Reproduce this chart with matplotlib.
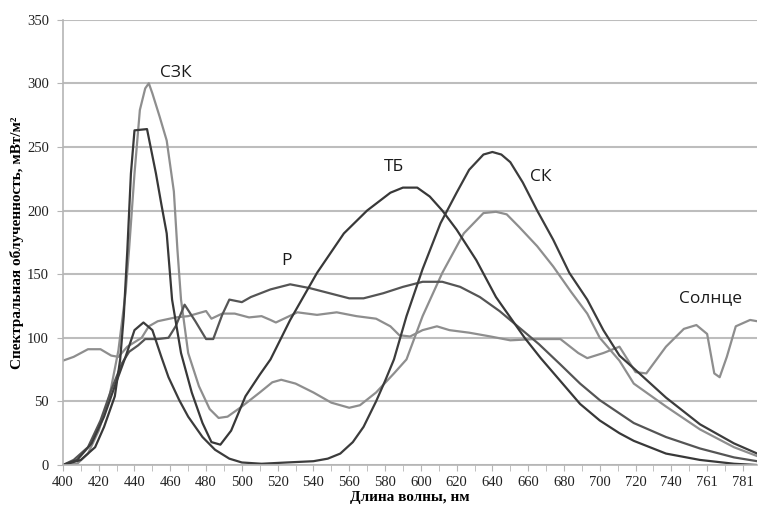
import matplotlib
matplotlib.use("Agg")
import matplotlib.pyplot as plt
from matplotlib.ticker import MultipleLocator

# --------------------------------------Data--------------------------------------
# x is the position on the category axis (label k sits at 400 + 20*k)
tick_pos = [400 + 20 * k for k in range(20)]
tick_labels = [str(v) for v in range(400, 741, 20)] + ["761", "781"]

szk_x = [400, 408, 414, 420, 426, 431, 435, 437, 440, 443, 446, 448, 450, 454, 458, 462, 464, 466,
         470, 476, 482, 487, 492, 500, 510, 517, 522, 530, 540, 550, 560, 566, 575, 585, 592, 601,
         612, 624, 635, 642, 648, 655, 665, 674, 684, 693, 700, 711, 719, 737, 756, 775, 788]
szk_y = [0, 1, 9, 27, 54, 90, 135, 170, 229, 279, 296, 300, 292, 274, 255, 215, 169, 130,
         88, 62, 44, 37, 38, 46, 57, 65, 67, 64, 57, 49, 45, 47, 57, 72, 83, 117,
         151, 182, 198, 199, 197, 187, 172, 156, 136, 119, 100, 82, 64, 46, 28, 14, 7]

tb_x = [400, 410, 418, 423, 429, 432, 434, 436, 438, 440, 447, 452, 455, 458, 461, 466, 472, 478,
        483, 488, 494, 502, 510, 516, 527, 542, 557, 570, 583, 590, 598, 605, 612, 620, 631, 642,
        650, 658, 667, 678, 689, 700, 711, 719, 737, 756, 775, 788]
tb_y = [0, 4, 14, 30, 54, 83, 117, 169, 229, 263, 264, 229, 205, 182, 130, 88, 57, 33,
        18, 16, 27, 54, 71, 83, 114, 151, 182, 200, 214, 218, 218, 211, 200, 185, 161, 132,
        116, 100, 84, 66, 48, 35, 25, 19, 9, 4, 1, 0]

sk_x = [400, 408, 416, 423, 429, 435, 440, 445, 450, 455, 459, 465, 470, 478, 485, 493, 500, 511,
        525, 540, 548, 555, 562, 568, 575, 580, 585, 592, 601, 611, 620, 627, 635, 640, 645, 650,
        657, 665, 674, 683, 693, 702, 711, 719, 737, 756, 775, 788]
sk_y = [0, 4, 17, 38, 62, 85, 106, 112, 106, 85, 69, 51, 38, 22, 12, 5, 2, 1,
        2, 3, 5, 9, 18, 30, 50, 66, 83, 117, 154, 190, 214, 232, 244, 246, 244, 238,
        222, 200, 177, 151, 130, 106, 86, 76, 53, 32, 17, 9]

r_x = [400, 406, 414, 421, 427, 433, 437, 442, 446, 453, 459, 463, 468, 474, 480, 484, 489, 493,
       500, 505, 516, 527, 538, 549, 560, 568, 579, 590, 601, 612, 622, 633, 644, 655, 666, 678,
       689, 700, 719, 737, 756, 775, 788]
r_y = [0, 4, 14, 35, 59, 80, 89, 94, 99, 99, 100, 109, 126, 113, 99, 99, 118, 130,
       128, 132, 138, 142, 139, 135, 131, 131, 135, 140, 144, 144, 140, 132, 121, 108, 95, 79,
       64, 51, 33, 22, 13, 6, 3]

sun_x = [400, 406, 414, 421, 427, 431, 436, 444, 448, 453, 463, 470, 480, 483, 489, 496, 504, 511,
         516, 519, 531, 542, 553, 564, 575, 583, 588, 594, 601, 609, 616, 627, 639, 650, 664, 678,
         688, 693, 702, 711, 720, 726, 737, 747, 754, 760, 764, 767, 771, 776, 784, 788]
sun_y = [82, 85, 91, 91, 86, 85, 93, 100, 109, 113, 116, 117, 121, 115, 119, 119, 116, 117,
         114, 112, 120, 118, 120, 117, 115, 109, 102, 101, 106, 109, 106, 104, 101, 98, 99, 99,
         88, 84, 88, 93, 73, 72, 93, 107, 110, 103, 72, 69, 85, 109, 114, 113]

labels = ["СЗК", "ТБ", "СК", "Р", "Солнце"]
label_xy = [(463, 308), (585, 234), (667, 226), (525, 160), (762, 131)]
# --------------------------------------Data--------------------------------------

serif = ["Liberation Serif", "DejaVu Serif"]
sans = ["Open Sans", "DejaVu Sans"]

fig = plt.figure(figsize=(7.58, 5.09), dpi=100)
ax = fig.add_axes([0.083, 0.0864, 0.916, 0.875])

ax.plot(szk_x, szk_y, color="#8e8e8e", lw=1.6)
ax.plot(sun_x, sun_y, color="#8e8e8e", lw=1.6)
ax.plot(r_x, r_y, color="#555555", lw=1.6)
ax.plot(tb_x, tb_y, color="#383838", lw=1.6)
ax.plot(sk_x, sk_y, color="#3c3c3c", lw=1.6)

for text, (tx, ty) in zip(labels, label_xy):
    ax.text(tx, ty, text, family=sans, fontsize=12.5, color="#1a1a1a",
            ha="center", va="center")

ax.set_xlim(400, 788)
ax.set_ylim(0, 350)
ax.set_xticks(tick_pos)
ax.set_xticklabels(tick_labels)
ax.xaxis.set_minor_locator(MultipleLocator(10))
ax.set_yticks(range(0, 351, 50))

ax.grid(axis="y", color="#bdbdbd", lw=1.5)
ax.set_axisbelow(True)
for side in ["top", "right"]:
    ax.spines[side].set_visible(False)
for side in ["left", "bottom"]:
    ax.spines[side].set_color("#b5b5b5")
    ax.spines[side].set_linewidth(1.2)

ax.tick_params(axis="x", which="both", direction="out", length=4, color="#b5b5b5", pad=4)
ax.tick_params(axis="y", direction="out", length=4, color="#b5b5b5", pad=6)
for lab in ax.get_xticklabels() + ax.get_yticklabels():
    lab.set_family(serif)
    lab.set_fontsize(10.5)
    lab.set_color("#222222")

ax.set_xlabel("Длина волны, нм", family=serif, fontsize=11, fontweight="bold", labelpad=1)
ax.set_ylabel("Спектральная облученность, мВт/м²", family=serif, fontsize=11,
              fontweight="bold", labelpad=2)

fig.savefig("out.png", dpi=100)
